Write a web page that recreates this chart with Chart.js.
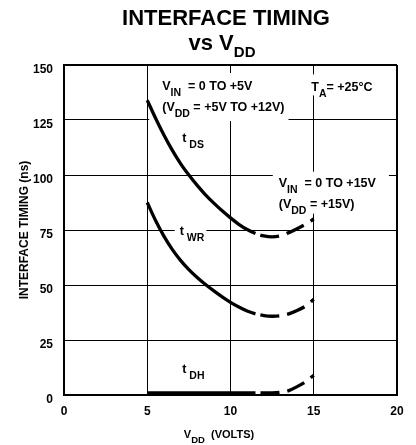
<!DOCTYPE html>
<html>
<head>
<meta charset="utf-8">
<script src="https://cdn.jsdelivr.net/npm/chart.js"></script>
<style>
  html, body { margin: 0; padding: 0; background: #fff; }
  canvas { display: block; }
</style>
</head>
<body>
<canvas id="timingChart" width="416" height="445"></canvas>
<script>
// supply voltage (V) at which the curves were read
const vdd = [5, 5.5, 6, 6.5, 7, 7.5, 8, 8.5, 9, 9.5, 10, 10.5, 11, 11.5, 12, 12.5, 13, 13.5, 14, 14.5, 15];
// interface timing (ns)
const tDS = [134, 125.8, 118.2, 111.3, 105.2, 100, 95.3, 91, 87.2, 83.7, 80.5, 77.6, 75.2, 73.4, 72.3, 71.9, 72.4, 73.8, 75.6, 77.6, 80];
const tWR = [87.5, 79.3, 72.2, 66.2, 61.2, 57, 53.4, 50.2, 47.3, 44.6, 42.1, 40, 38.2, 36.9, 36.1, 35.8, 36, 36.9, 38.4, 40.4, 43.5];
const tDH = [1, 1, 1, 1, 1, 1, 1, 1, 1, 1, 1, 1, 1, 1, 1, 1, 1.2, 2, 3.8, 6, 9];
// curves go dashed past this VDD (the VIN = 0 TO +15V part)
const dashFrom = 11.5;
const xTicks = [0, 5, 10, 15, 20];
const yTicks = [0, 25, 50, 75, 100, 125, 150];

// text placed on the plot, anchored in data units: [text, isSubscript]
const notes = [
  { x: 5.9, y: 138.6, pad: [13, 4, 8, 4], lines: [
      [['V'], ['IN', 1], ['  = 0 TO +5V']],
      [['(V'], ['DD', 1], [' = +5V TO +12V)']] ] },
  { x: 14.85, y: 138, pad: [4, 4, 8, -2], lines: [
      [['T'], ['A', 1], ['= +25°C']] ] },
  { x: 12.9, y: 94.7, pad: [6, 13, 6, 0], lines: [
      [['V'], ['IN', 1], ['  = 0 TO +15V']],
      [['(V'], ['DD', 1], [' = +15V)']] ] },
  { x: 7.1, y: 115.2, pad: [3, 3, 3, 3], lines: [[['t'], [' DS', 1]]] },
  { x: 6.95, y: 72.7, pad: [5, 2, 4, 3], lines: [[['t'], [' WR', 1]]] },
  { x: 7.1, y: 9.8, pad: [3, 3, 3, 3], lines: [[['t'], [' DH', 1]]] }
];

const FAM = '"Liberation Sans", Arial, Helvetica, sans-serif';
const MAIN = 'bold 12.5px ' + FAM;
const SUB = 'bold 10.5px ' + FAM;

function richWidth(ctx, parts, main, sub) {
  let w = 0;
  for (const [t, s] of parts) { ctx.font = s ? sub : main; w += ctx.measureText(t).width; }
  return w;
}
function drawRich(ctx, x, y, parts, main, sub, drop) {
  for (const [t, s] of parts) {
    ctx.font = s ? sub : main;
    ctx.fillText(t, x, y + (s ? drop : 0));
    x += ctx.measureText(t).width;
  }
}

const notesPlugin = {
  id: 'notes',
  // white patches behind the labels, over the grid but under the curves
  beforeDatasetsDraw(chart) {
    const { ctx, scales: { x, y } } = chart;
    ctx.save();
    ctx.fillStyle = '#fff';
    notes.forEach(n => {
      const px = x.getPixelForValue(n.x), py = y.getPixelForValue(n.y);
      const w = Math.max(...n.lines.map(l => richWidth(ctx, l, MAIN, SUB)));
      const [l, r, t, b] = n.pad;
      const top = py - 9 - t;
      const bottom = py + (n.lines.length - 1) * 21 + 6 + b;
      ctx.fillRect(px - l, top, w + l + r, bottom - top);
    });
    ctx.restore();
  },
  afterDatasetsDraw(chart) {
    const { ctx, scales: { x, y } } = chart;
    ctx.save();
    ctx.fillStyle = '#000';
    ctx.textBaseline = 'alphabetic';
    notes.forEach(n => {
      const px = x.getPixelForValue(n.x), py = y.getPixelForValue(n.y);
      n.lines.forEach((l, i) => drawRich(ctx, px, py + i * 21, l, MAIN, SUB, 6));
    });
    ctx.restore();
  },
  afterDraw(chart) {
    const { ctx } = chart;
    ctx.save();
    ctx.fillStyle = '#000';
    ctx.textBaseline = 'alphabetic';
    // chart title
    ctx.font = 'bold 22px ' + FAM;
    ctx.textAlign = 'center';
    ctx.fillText('INTERFACE TIMING', 226, 25);
    ctx.textAlign = 'left';
    const t2 = [['vs V'], ['DD', 1]];
    const tm = 'bold 22px ' + FAM, ts = 'bold 15px ' + FAM;
    drawRich(ctx, 222 - richWidth(ctx, t2, tm, ts) / 2, 50, t2, tm, ts, 7);
    // x axis title
    const xt = [['V'], ['DD', 1], ['  (VOLTS)']];
    const xm = 'bold 11px ' + FAM, xs = 'bold 9.5px ' + FAM;
    drawRich(ctx, 219 - richWidth(ctx, xt, xm, xs) / 2, 438, xt, xm, xs, 5);
    ctx.restore();
  }
};

const ctx = document.getElementById('timingChart').getContext('2d');
const pts = ys => vdd.map((v, i) => ({ x: v, y: ys[i] }));
const curve = ys => ({
  data: pts(ys),
  borderColor: '#000',
  borderWidth: 3.3,
  pointRadius: 0,
  cubicInterpolationMode: 'monotone',
  segment: {
    borderDash: c => c.p0.parsed.x >= dashFrom ? [19, 8] : undefined,
    borderDashOffset: c => c.p0.parsed.x >= dashFrom ? 22 : undefined
  }
});

const edge = (v, hi) => v === hi ? 2 : 1;

new Chart(ctx, {
  type: 'line',
  data: { datasets: [curve(tDS), curve(tWR), curve(tDH)] },
  options: {
    responsive: false,
    animation: false,
    events: [],
    layout: { padding: { top: 65, right: 19, bottom: 0, left: 0 } },
    plugins: { legend: { display: false }, tooltip: { enabled: false }, title: { display: false } },
    scales: {
      x: {
        type: 'linear',
        min: 0, max: 20,
        afterFit: s => { s.height = 50; },
        afterBuildTicks: s => { s.ticks = xTicks.map(v => ({ value: v })); },
        grid: { color: '#000', lineWidth: c => edge(c.tick.value, 20), drawTicks: false },
        border: { color: '#000', width: 2 },
        ticks: { color: '#000', padding: 9, maxRotation: 0, font: { family: FAM, size: 12, weight: 'bold' } }
      },
      y: {
        min: 0, max: 150,
        afterFit: s => { s.width = 64; },
        afterBuildTicks: s => { s.ticks = yTicks.map(v => ({ value: v })); },
        grid: { color: '#000', lineWidth: c => edge(c.tick.value, 150), drawTicks: false },
        border: { color: '#000', width: 2 },
        ticks: { color: '#000', padding: 11, labelOffset: 5, font: { family: FAM, size: 12, weight: 'bold' } },
        title: {
          display: true,
          text: 'INTERFACE TIMING (ns)',
          color: '#000',
          padding: { top: 17, bottom: 0 },
          font: { family: FAM, size: 12, weight: 'bold' }
        }
      }
    }
  },
  plugins: [notesPlugin]
});
</script>
</body>
</html>
